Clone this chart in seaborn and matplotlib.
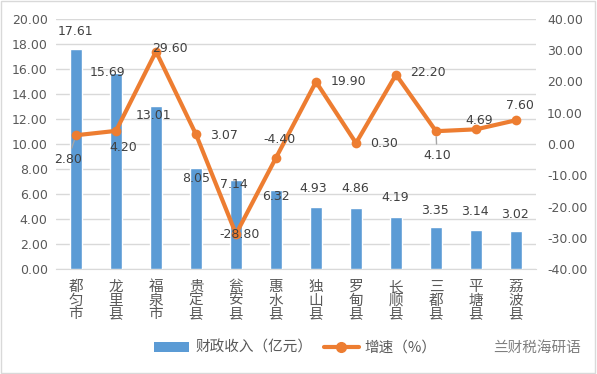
import numpy as np
import pandas as pd
import matplotlib
matplotlib.use("Agg")
import matplotlib.pyplot as plt
from matplotlib.lines import Line2D
from matplotlib.patches import Patch, Rectangle
import seaborn as sns

# ── data ─────────────────────────────────────────────────────────────────────
counties = ["都匀市", "龙里县", "福泉市", "贵定县", "瓮安县", "惠水县",
            "独山县", "罗甸县", "长顺县", "三都县", "平塘县", "荔波县"]
revenue = [17.61, 15.69, 13.01, 8.05, 7.14, 6.32, 4.93, 4.86, 4.19, 3.35, 3.14, 3.02]
growth = [2.80, 4.20, 29.60, 3.07, -28.80, -4.40, 19.90, 0.30, 22.20, 4.10, 4.69, 7.60]

# label offsets in pixels (dx, dy)
bar_off = [(-1, 17), (-9, 0), (-3, -9), (0, -10), (-2, -5), (0, -7),
           (-3, 19), (-1, 20), (-1, 19), (-1, 17), (-1, 18), (-1, 17)]
line_off = [(-8, -24), (7, -17), (14, 3), (28, -1), (4, -1), (4, 18),
            (32, 0), (28, 0), (32, 2), (1, -24), (3, 9), (4, 15)]

BAR = "#5B9BD5"
LINE = "#ED7D31"
TXT = "#595959"
GRID = "#D9D9D9"
NUMFONT = ["DejaVu Sans"]

sns.set_style("white")
plt.rcParams["font.family"] = ["Noto Sans CJK SC", "DejaVu Sans"]

df = pd.DataFrame({"x": np.arange(len(counties)), "county": counties,
                   "revenue": revenue, "growth": growth})

fig = plt.figure(figsize=(5.97, 3.74), dpi=100)
ax = fig.add_axes([56 / 597, 1 - 269 / 374, 480 / 597, 250 / 374])

sns.barplot(data=df, x="x", y="revenue", color=BAR, width=0.3,
            saturation=1, ax=ax, zorder=3)
ax.set_xlim(-0.5, len(counties) - 0.5)
ax.set_ylim(0, 20)
ax.set_yticks(np.arange(0, 20.1, 2))
ax.set_yticklabels([f"{v:.2f}" for v in np.arange(0, 20.1, 2)], family=NUMFONT)
ax.set_xticks(df["x"])
ax.set_xticklabels(["\n".join(c) for c in counties], linespacing=0.95)
ax.grid(axis="y", color=GRID, linewidth=1, zorder=0)
ax.set_xlabel("")
ax.set_ylabel("")
for s in ["top", "left", "right"]:
    ax.spines[s].set_visible(False)
ax.spines["bottom"].set_color(GRID)
ax.tick_params(axis="y", length=0, labelsize=9, labelcolor=TXT, pad=6)
ax.tick_params(axis="x", length=0, labelsize=10.5, labelcolor=TXT, pad=8)

for i, v in enumerate(revenue):
    ax.annotate(f"{v:.2f}", (i, v), xytext=bar_off[i], textcoords="offset pixels",
                ha="center", va="center", fontsize=9, color="#404040",
                family=NUMFONT, zorder=5)

ax2 = ax.twinx()
sns.lineplot(data=df, x="x", y="growth", color=LINE, linewidth=3,
             marker="o", markersize=7, markeredgewidth=0, ax=ax2, zorder=4)
ax2.set_ylim(-40, 40)
ax2.set_yticks(np.arange(-40, 40.1, 10))
ax2.set_yticklabels([f"{v:.2f}" for v in np.arange(-40, 40.1, 10)], family=NUMFONT)
ax2.set_ylabel("")
ax2.set_xlabel("")
for s in ["top", "left", "right", "bottom"]:
    ax2.spines[s].set_visible(False)
ax2.tick_params(axis="y", length=0, labelsize=9, labelcolor=TXT, pad=8)

for i, v in enumerate(growth):
    arrow = None
    if i in (0, 9):
        arrow = dict(arrowstyle="-", color="#A6A6A6", lw=1, shrinkA=1, shrinkB=4)
    ax2.annotate(f"{v:.2f}", (i, v), xytext=line_off[i], textcoords="offset pixels",
                 ha="center", va="center", fontsize=9, color="#404040",
                 family=NUMFONT, arrowprops=arrow, zorder=6)

handles = [Patch(facecolor=BAR, edgecolor="none"),
           Line2D([0], [0], color=LINE, lw=3, marker="o", markersize=7)]
fig.legend(handles, ["财政收入（亿元）", "增速（%）"], loc="center",
           bbox_to_anchor=(0.495, 1 - 348 / 374), ncol=2, frameon=False,
           fontsize=10.5, labelcolor=TXT, handlelength=2.4, columnspacing=0.8,
           handletextpad=0.4)

fig.text(537 / 597, 1 - 348 / 374, "兰财税海研语", ha="center", va="center",
         fontsize=10.5, color="#7F7F7F")

fig.patches.append(Rectangle((0.002, 0.003), 0.995, 0.993, transform=fig.transFigure,
                             fill=False, edgecolor=GRID, linewidth=1))

fig.savefig("out.png", dpi=100, facecolor="white")
